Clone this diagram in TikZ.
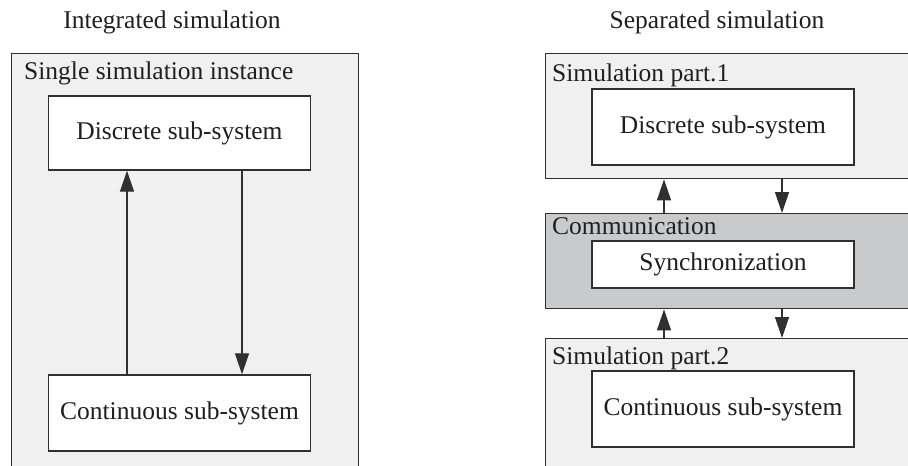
\documentclass[tikz,border=0pt]{standalone}
\usepackage{fontspec}
\setmainfont{Liberation Serif}
\usetikzlibrary{arrows.meta}
\definecolor{edgegray}{HTML}{303030}
\definecolor{panelfill}{HTML}{F0F0F0}
\definecolor{commfill}{HTML}{C9CACC}
\tikzset{
  x=1pt, y=-1pt,
  every node/.style={font=\fontsize{25.5}{30}\selectfont, text=black!88},
  panel/.style={draw=edgegray, line width=1.4pt, fill=panelfill, inner sep=0pt, anchor=north west},
  commpanel/.style={panel, fill=commfill},
  blockbox/.style={draw=edgegray, line width=1.4pt, fill=white, inner sep=0pt, minimum width=262pt},
  caption/.style={anchor=base west, inner sep=0pt},
  heading/.style={anchor=base, inner sep=0pt},
  flow/.style={draw=edgegray, line width=1.3pt, -{Triangle[length=21pt,width=14pt]}}
}
\begin{document}
\begin{tikzpicture}
\useasboundingbox (0,0) rectangle (908,466);
\clip (0,0) rectangle (908,466);

% headings
\node[heading] (hint) at (172,28) {Integrated simulation};
\node[heading] (hsep) at (717,28) {Separated simulation};

% integrated simulation: one instance
\node[panel, minimum width=347pt, minimum height=430pt] (single) at (11,53) {};
\node[caption] (singlelbl) at (24,79) {Single simulation instance};
\node[blockbox, minimum height=74pt] (discL) at (179.5,133) {Discrete sub-system};
\node[blockbox, minimum height=76pt] (contL) at (179.5,413) {Continuous sub-system};

\coordinate (ua) at (127,0);
\coordinate (da) at (242,0);
\draw[flow] (contL.north -| ua) -- (discL.south -| ua);
\draw[flow] (discL.south -| da) -- (contL.north -| da);

% separated simulation: two parts and a communication layer
\node[panel, minimum width=380pt, minimum height=125pt] (part1) at (545,53) {};
\node[caption] (part1lbl) at (552,81) {Simulation part.1};
\node[blockbox, minimum height=76pt] (discR) at (723,127) {Discrete sub-system};

\node[commpanel, minimum width=380pt, minimum height=95pt] (comm) at (545,213) {};
\node[caption] (commlbl) at (552,234) {Communication};
\node[blockbox, minimum height=47pt] (sync) at (723,264.5) {Synchronization};

\node[panel, minimum width=380pt, minimum height=150pt] (part2) at (545,338) {};
\node[caption] (part2lbl) at (552,364) {Simulation part.2};
\node[blockbox, minimum height=76pt] (contR) at (723,409) {Continuous sub-system};

\coordinate (ub) at (664,0);
\coordinate (db) at (782,0);
\draw[flow] (comm.north -| ub) -- (part1.south -| ub);
\draw[flow] (part1.south -| db) -- (comm.north -| db);
\draw[flow] (part2.north -| ub) -- (comm.south -| ub);
\draw[flow] (comm.south -| db) -- (part2.north -| db);
\end{tikzpicture}
\end{document}
